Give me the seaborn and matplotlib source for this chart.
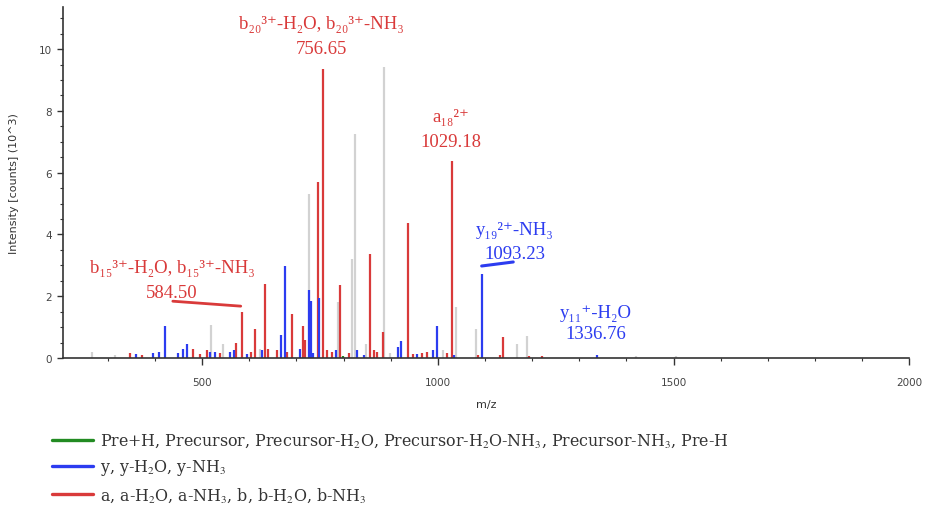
import matplotlib
matplotlib.use("Agg")
import matplotlib.pyplot as plt
import seaborn as sns
from matplotlib.lines import Line2D
from matplotlib.ticker import MultipleLocator

# peaks (m/z, intensity in 10^3 counts)
gray_mz = [267, 315, 518, 544, 622, 726, 788, 819, 824, 847, 885, 898, 1010, 1038, 1082, 1167, 1190, 1421, 1506]
gray_int = [0.2, 0.1, 1.07, 0.45, 0.3, 5.3, 1.8, 3.2, 7.25, 0.45, 9.42, 0.15, 0.25, 1.65, 0.94, 0.45, 0.7, 0.06, 0.05]

red_mz = [347, 372, 481, 495, 510, 538, 573, 584.5, 603, 612, 633, 639, 658, 680, 690, 715, 719, 745,
          756.65, 764, 775, 792, 811, 857, 864, 872, 883, 936, 947, 967, 976, 1019, 1029.18, 1085, 1131,
          1139, 1194, 1222]
red_int = [0.15, 0.1, 0.28, 0.12, 0.25, 0.15, 0.5, 1.48, 0.2, 0.94, 2.4, 0.3, 0.25, 0.2, 1.42, 1.05, 0.6, 5.7,
           9.35, 0.25, 0.2, 2.36, 0.15, 3.37, 0.25, 0.2, 0.84, 4.37, 0.12, 0.15, 0.2, 0.15, 6.37, 0.1, 0.1,
           0.68, 0.08, 0.07]

blue_mz = [360, 396, 408, 421, 449, 459, 468, 516, 527, 559, 567, 595, 627, 667, 675, 707, 726, 730, 735,
           747, 783, 828, 843, 915, 921, 955, 989, 999, 1035, 1093.23, 1336.76]
blue_int = [0.12, 0.15, 0.2, 1.04, 0.15, 0.3, 0.45, 0.2, 0.2, 0.2, 0.25, 0.12, 0.25, 0.75, 2.98, 0.3, 2.2, 1.85,
            0.15, 1.95, 0.25, 0.25, 0.1, 0.35, 0.56, 0.12, 0.25, 1.04, 0.1, 2.72, 0.1]

green_mz = [798]
green_int = [0.05]

legend_labels = [
    "Pre+H, Precursor, Precursor-H$_2$O, Precursor-H$_2$O-NH$_3$, Precursor-NH$_3$, Pre-H",
    "y, y-H$_2$O, y-NH$_3$",
    "a, a-H$_2$O, a-NH$_3$, b, b-H$_2$O, b-NH$_3$",
]

RED = "#d93a3a"
BLUE = "#2c3cf0"
GREEN = "#228b22"
GRAY = "#d2d2d2"

sns.set_style("ticks")
plt.rcParams["mathtext.fontset"] = "stix"
plt.rcParams["font.family"] = ["DejaVu Sans"]

fig = plt.figure(figsize=(9.26, 5.10), dpi=100)
ax = fig.add_axes([0.068, 0.296, 0.914, 0.688])

ax.vlines(gray_mz, 0, gray_int, color=GRAY, lw=1.6)
ax.vlines(green_mz, 0, green_int, color=GREEN, lw=1.6)
ax.vlines(red_mz, 0, red_int, color=RED, lw=1.6)
ax.vlines(blue_mz, 0, blue_int, color=BLUE, lw=1.6)

ax.set_xlim(205, 2000)
ax.set_ylim(0, 11.36)
sns.despine(ax=ax)
for s in ["left", "bottom"]:
    ax.spines[s].set_color("#333333")
    ax.spines[s].set_linewidth(1.2)

ax.xaxis.set_major_locator(MultipleLocator(500))
ax.xaxis.set_minor_locator(MultipleLocator(100))
ax.yaxis.set_major_locator(MultipleLocator(2))
ax.yaxis.set_minor_locator(MultipleLocator(0.5))
ax.tick_params(axis="x", which="major", length=5, width=1, color="#333333", pad=9,
               labelsize=7.5, labelcolor="#444444")
ax.tick_params(axis="y", which="major", length=4, width=1, color="#333333", pad=4,
               labelsize=7.5, labelcolor="#444444")
ax.tick_params(which="minor", length=2.5, width=0.8, color="#333333")

ax.set_xlabel("m/z", fontsize=8, color="#333333", labelpad=8)
ax.set_ylabel("Intensity [counts] (10^3)", fontsize=8, color="#333333")
ax.yaxis.set_label_coords(-0.052, 0.5)

serif = ["Liberation Serif", "DejaVu Serif"]
ann = [
    (754, 10.68, "b\u2082\u2080\u00b3\u207a-H\u2082O, b\u2082\u2080\u00b3\u207a-NH\u2083", RED),
    (754, 9.87, "756.65", RED),
    (1027, 7.67, "a\u2081\u2088\u00b2\u207a", RED),
    (1027, 6.86, "1029.18", RED),
    (1163, 4.01, "y\u2081\u2089\u00b2\u207a-NH\u2083", BLUE),
    (1163, 3.24, "1093.23", BLUE),
    (436, 2.78, "b\u2081\u2085\u00b3\u207a-H\u2082O, b\u2081\u2085\u00b3\u207a-NH\u2083", RED),
    (436, 1.97, "584.50", RED),
    (1336, 1.33, "y\u2081\u2081\u207a-H\u2082O", BLUE),
    (1336, 0.65, "1336.76", BLUE),
]
for x, y, t, c in ann:
    ax.text(x, y, t, color=c, fontsize=13.5, family=serif, ha="center", va="baseline")

ax.plot([438, 582], [1.84, 1.68], color=RED, lw=2)
ax.plot([1093, 1160], [2.98, 3.11], color=BLUE, lw=2.2)

handles = [Line2D([], [], color=GREEN, lw=2.4),
           Line2D([], [], color=BLUE, lw=2.4),
           Line2D([], [], color=RED, lw=2.4)]
leg = fig.legend(handles, legend_labels, loc="upper left", bbox_to_anchor=(52 / 926, 1 - 433 / 510),
                 frameon=False, borderpad=0, borderaxespad=0, handlelength=2.6, handletextpad=0.45,
                 labelspacing=0.5, prop={"family": "DejaVu Serif", "size": 11.4})
for t in leg.get_texts():
    t.set_color("#333333")

fig.savefig("out.png", dpi=100)
